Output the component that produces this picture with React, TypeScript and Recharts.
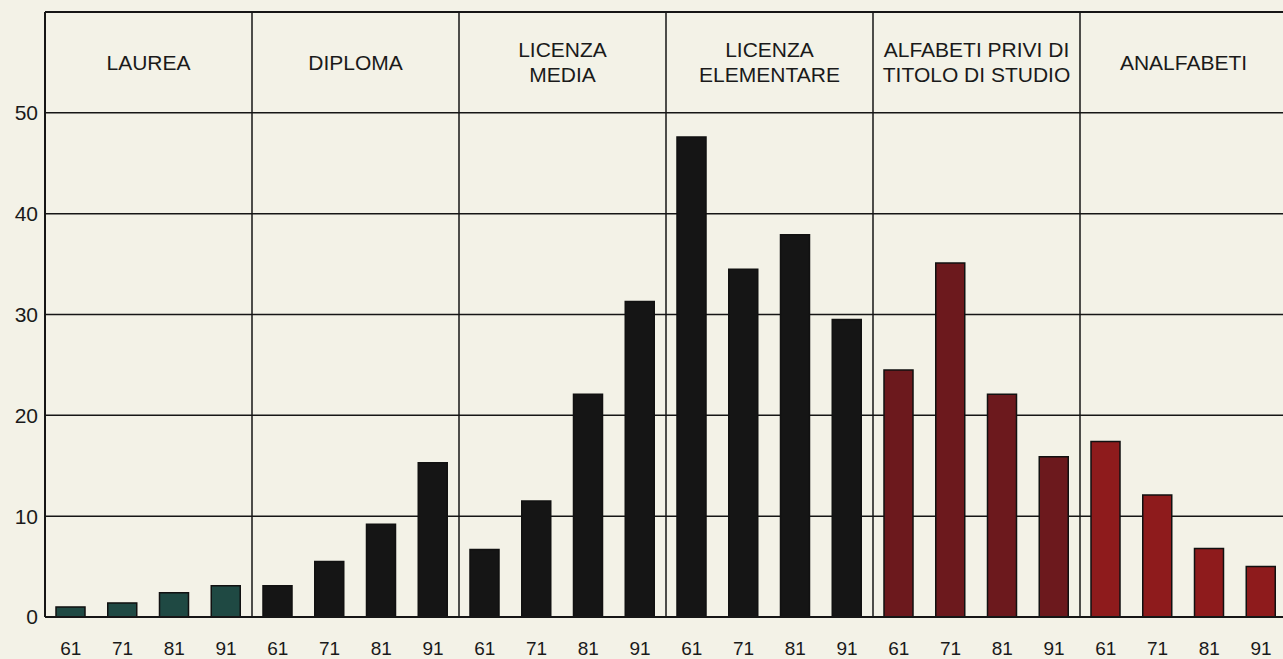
import { BarChart, Bar, XAxis, YAxis, CartesianGrid, ReferenceLine, ReferenceArea, Cell } from "recharts";

// titolo di studio della popolazione, censimenti 1961-1991 (valori %)
const groups = [
  ["LAUREA"],
  ["DIPLOMA"],
  ["LICENZA", "MEDIA"],
  ["LICENZA", "ELEMENTARE"],
  ["ALFABETI PRIVI DI", "TITOLO DI STUDIO"],
  ["ANALFABETI"],
];
const years = ["61", "71", "81", "91"];

const laurea = [1.0, 1.4, 2.4, 3.1];
const diploma = [3.1, 5.5, 9.2, 15.3];
const licenzaMedia = [6.7, 11.5, 22.1, 31.3];
const licenzaElementare = [47.6, 34.5, 37.9, 29.5];
const alfabeti = [24.5, 35.1, 22.1, 15.9];
const analfabeti = [17.4, 12.1, 6.8, 5.0];

const series = [laurea, diploma, licenzaMedia, licenzaElementare, alfabeti, analfabeti];
const groupColors = ["#1f4943", "#151515", "#151515", "#151515", "#6c191d", "#8e1b1c"];
const yTicks = [0, 10, 20, 30, 40, 50];

const data = series.flatMap((vals, g) =>
  vals.map((v, i) => ({ key: `${g}-${years[i]}`, year: years[i], group: g, value: v }))
);

const FONT = "'Liberation Sans', Arial, Helvetica, sans-serif";
const LINE = "#161616";

function GroupLabel(props: any) {
  const { viewBox, lines } = props;
  const cx = viewBox.x + viewBox.width / 2;
  const cy = viewBox.y + viewBox.height / 2;
  const lh = 25;
  const startY = cy - ((lines.length - 1) * lh) / 2;
  return (
    <text x={cx} y={startY} textAnchor="middle" fontFamily={FONT} fontSize={21} fill="#1a1a1a">
      {lines.map((l: string, i: number) => (
        <tspan key={i} x={cx} y={startY + i * lh} dy="0.36em">
          {l}
        </tspan>
      ))}
    </text>
  );
}

export default function App() {
  return (
    <div
      style={{
        position: "absolute",
        left: 0,
        top: 0,
        width: 1283,
        height: 659,
        overflow: "hidden",
        background: "#f3f2e7",
      }}
    >
      <BarChart width={1300} height={659} data={data} margin={{ top: 12, right: 13, bottom: 0, left: 0 }}>
        <CartesianGrid horizontal vertical={false} stroke={LINE} strokeWidth={1.5} />
        <XAxis
          dataKey="key"
          tickFormatter={(k: string) => k.split("-")[1]}
          interval={0}
          height={42}
          tickLine={false}
          tickMargin={19}
          axisLine={{ stroke: LINE, strokeWidth: 2 }}
          tick={{ fontSize: 19, fontFamily: FONT, fill: "#1a1a1a" }}
        />
        <YAxis
          domain={[0, 60]}
          ticks={yTicks}
          width={45}
          tickLine={false}
          tickMargin={1}
          axisLine={{ stroke: LINE, strokeWidth: 2 }}
          tick={{ fontSize: 21, fontFamily: FONT, fill: "#1a1a1a" }}
        />
        <ReferenceLine y={60} stroke={LINE} strokeWidth={2} />
        {groups.slice(1).map((_, g) => (
          <ReferenceLine key={g} x={`${g + 1}-61`} position="start" stroke={LINE} strokeWidth={1.5} />
        ))}
        {groups.map((lines, g) => (
          <ReferenceArea
            key={g}
            x1={`${g}-61`}
            x2={`${g}-91`}
            y1={50}
            y2={60}
            fill="none"
            stroke="none"
            label={<GroupLabel lines={lines} />}
          />
        ))}
        <Bar dataKey="value" barSize={29} isAnimationActive={false} stroke="#111" strokeWidth={1.5}>
          {data.map((d) => (
            <Cell key={d.key} fill={groupColors[d.group]} />
          ))}
        </Bar>
      </BarChart>
    </div>
  );
}
